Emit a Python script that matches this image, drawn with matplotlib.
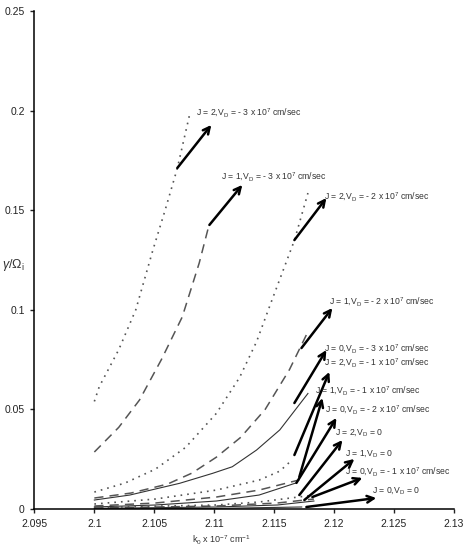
import numpy as np
import matplotlib
matplotlib.use('Agg')
import matplotlib.pyplot as plt
from matplotlib.ticker import FuncFormatter

plt.rcParams['font.family'] = ['Liberation Sans', 'DejaVu Sans']
plt.rcParams['mathtext.fontset'] = 'custom'
plt.rcParams['mathtext.rm'] = 'Liberation Sans'
plt.rcParams['mathtext.it'] = 'Liberation Sans:italic'

# curves: (k0, gamma/Omega_i), J=2 dotted, J=1 dashed, J=0 solid
k_j2_m3 = [2.1, 2.10041, 2.10204, 2.10346, 2.10489, 2.10591, 2.10693, 2.10795]
g_j2_m3 = [0.054, 0.0614, 0.08, 0.1, 0.13, 0.15, 0.171, 0.1978]

k_j1_m3 = [2.1, 2.10204, 2.10377, 2.1056, 2.10734, 2.10876, 2.10958]
g_j1_m3 = [0.0286, 0.041, 0.0547, 0.075, 0.0964, 0.1235, 0.1426]

k_j2_m2 = [2.1, 2.10255, 2.1051, 2.10764, 2.11019, 2.11213, 2.11355, 2.11478, 2.11672, 2.11784]
g_j2_m2 = [0.0085, 0.013, 0.02, 0.031, 0.048, 0.066, 0.084, 0.104, 0.135, 0.1586]

k_j1_m2 = [2.1, 2.10306, 2.10611, 2.10815, 2.11019, 2.11223, 2.11427, 2.1163, 2.11784]
g_j1_m2 = [0.0055, 0.008, 0.0125, 0.018, 0.026, 0.036, 0.05, 0.07, 0.089]

k_j0_m3 = [2.1, 2.10296, 2.10713, 2.10988, 2.11152, 2.11355, 2.11549, 2.11784]
g_j0_m3 = [0.0045, 0.007, 0.0129, 0.0179, 0.0212, 0.0296, 0.0397, 0.058]

k_j2_m1 = [2.1, 2.1051, 2.11019, 2.11376, 2.11549, 2.11651]
g_j2_m1 = [0.0025, 0.005, 0.0095, 0.0145, 0.019, 0.0246]

k_j1_m1 = [2.1, 2.1051, 2.11019, 2.11376, 2.11712]
g_j1_m1 = [0.0015, 0.003, 0.006, 0.0095, 0.0146]

k_j0_m2 = [2.1, 2.1051, 2.11019, 2.11376, 2.11681]
g_j0_m2 = [0.001, 0.002, 0.004, 0.007, 0.013]

k_j2_0 = [2.1, 2.11019, 2.11376, 2.11834]
g_j2_0 = [0.0008, 0.002, 0.0035, 0.007]

k_j1_0 = [2.1, 2.11019, 2.11529, 2.11834]
g_j1_0 = [0.0005, 0.0015, 0.003, 0.005]

k_j0_m1 = [2.1, 2.11019, 2.11529, 2.11834]
g_j0_m1 = [0.0003, 0.001, 0.002, 0.004]

k_j0_0 = [2.1, 2.11019, 2.11732]
g_j0_0 = [0.0001, 0.0003, 0.001]

labels = [
    'J = 2,V$_{\\rm D}$ = - 3 x 10$^{7}$ cm/sec',
    'J = 1,V$_{\\rm D}$ = - 3 x 10$^{7}$ cm/sec',
    'J = 2,V$_{\\rm D}$ = - 2 x 10$^{7}$ cm/sec',
    'J = 1,V$_{\\rm D}$ = - 2 x 10$^{7}$ cm/sec',
    'J = 0,V$_{\\rm D}$ = - 3 x 10$^{7}$ cm/sec',
    'J = 2,V$_{\\rm D}$ = - 1 x 10$^{7}$ cm/sec',
    'J = 1,V$_{\\rm D}$ = - 1 x 10$^{7}$ cm/sec',
    'J = 0,V$_{\\rm D}$ = - 2 x 10$^{7}$ cm/sec',
    'J = 2,V$_{\\rm D}$ = 0',
    'J = 1,V$_{\\rm D}$ = 0',
    'J = 0,V$_{\\rm D}$ = - 1 x 10$^{7}$ cm/sec',
    'J = 0,V$_{\\rm D}$ = 0',
]
label_x = [2.10852, 2.11062, 2.11921, 2.11963, 2.11921, 2.11921,
           2.11846, 2.11929, 2.12013, 2.12096, 2.12096, 2.12322]
label_y = [0.1988, 0.1667, 0.1566, 0.1039, 0.0803, 0.0733,
           0.0592, 0.0497, 0.0382, 0.0281, 0.0186, 0.0095]
tail_x = [2.10693, 2.10961, 2.11671, 2.1173, 2.11671, 2.11671,
          2.11712, 2.11688, 2.11712, 2.11754, 2.11821, 2.11771]
tail_y = [0.1712, 0.1426, 0.135, 0.0808, 0.0532, 0.0271,
          0.0161, 0.0131, 0.007, 0.0045, 0.006, 0.001]
head_x = [2.10977, 2.11236, 2.11938, 2.11988, 2.11938, 2.11963,
          2.11905, 2.12022, 2.12072, 2.12172, 2.12239, 2.12355]
head_y = [0.1928, 0.1627, 0.1561, 0.1009, 0.0798, 0.0688,
          0.0557, 0.0457, 0.0346, 0.0251, 0.0156, 0.0055]

fig = plt.figure(figsize=(4.63, 5.47), dpi=100)
ax = fig.add_axes([0.0745, 0.0695, 0.905, 0.9104])

dot = dict(color='#555555', lw=1.2, linestyle=(0, (1, 3)))
dash = dict(color='#555555', lw=1.1, linestyle=(0, (6, 4)))
sol = dict(color='#333333', lw=0.8, linestyle='-')

ax.plot(k_j2_m3, g_j2_m3, **dot)
ax.plot(k_j1_m3, g_j1_m3, **dash)
ax.plot(k_j2_m2, g_j2_m2, **dot)
ax.plot(k_j1_m2, g_j1_m2, **dash)
ax.plot(k_j0_m3, g_j0_m3, **sol)
ax.plot(k_j2_m1, g_j2_m1, **dot)
ax.plot(k_j1_m1, g_j1_m1, **dash)
ax.plot(k_j0_m2, g_j0_m2, **sol)
ax.plot(k_j2_0, g_j2_0, **dot)
ax.plot(k_j1_0, g_j1_0, **dash)
ax.plot(k_j0_m1, g_j0_m1, **sol)
ax.plot(k_j0_0, g_j0_0, **sol)

for i in range(len(labels)):
    ax.annotate('', xy=(head_x[i], head_y[i]), xytext=(tail_x[i], tail_y[i]),
                arrowprops=dict(arrowstyle='->', lw=1.8, color='black',
                                mutation_scale=12, shrinkA=0, shrinkB=0))
    ax.text(label_x[i], label_y[i], labels[i], fontsize=6.2, color='#333333',
            ha='left', va='center')

ax.set_xlim(2.095, 2.13)
ax.set_ylim(0, 0.25)
ax.set_xticks(np.arange(2.095, 2.1301, 0.005))
ax.set_yticks([0, 0.05, 0.1, 0.15, 0.2, 0.25])
fmt = FuncFormatter(lambda v, p: '%g' % round(v, 4))
ax.xaxis.set_major_formatter(fmt)
ax.yaxis.set_major_formatter(fmt)
ax.tick_params(labelsize=7.5, length=3, width=1, colors='#222222', pad=4)
for s in ['top', 'right']:
    ax.spines[s].set_visible(False)
for s in ['left', 'bottom']:
    ax.spines[s].set_linewidth(1.1)

fig.text(221 / 463, 1 - 540 / 547, 'k$_{\\rm 0}$ x 10$^{-7}$ cm$^{-1}$',
         fontsize=6.5, color='#333333', ha='center', va='center')
fig.text(2 / 463, 1 - 265 / 547, '$\\gamma/\\Omega_{\\rm i}$',
         fontsize=9, color='#333333', ha='left', va='center')

fig.savefig('out.png', dpi=100)
